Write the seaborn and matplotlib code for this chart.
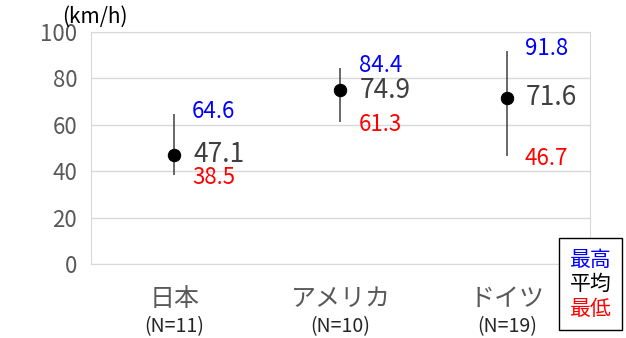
import matplotlib
matplotlib.use("Agg")
import matplotlib.pyplot as plt
import seaborn as sns
import pandas as pd
from matplotlib.lines import Line2D

# 国別の速度（最高・平均・最低）
countries = ["日本", "アメリカ", "ドイツ"]
counts = ["(N=11)", "(N=10)", "(N=19)"]
speed_max = [64.6, 84.4, 91.8]
speed_mean = [47.1, 74.9, 71.6]
speed_min = [38.5, 61.3, 46.7]

df = pd.DataFrame({"country": countries, "max": speed_max, "mean": speed_mean, "min": speed_min})

sns.set_style("white")
plt.rcParams['font.family'] = ['Noto Sans CJK JP', 'DejaVu Sans']

fig = plt.figure(figsize=(6.26, 3.38), dpi=100)
ax = fig.add_axes([0.1454, 0.219, 0.797, 0.686])

# 最低〜最高の範囲
ax.vlines(range(len(df)), df["min"], df["max"], color="#404040", linewidth=1.1, zorder=2)
sns.scatterplot(data=df, x="country", y="mean", color="black", s=80, edgecolor="black", ax=ax, zorder=3)

for i, row in df.iterrows():
    ax.annotate(f"{row['max']:.1f}", (i, row["max"]), xytext=(13, 2), textcoords="offset points",
                color="blue", fontsize=16, va="center", ha="left")
    ax.annotate(f"{row['mean']:.1f}", (i, row["mean"]), xytext=(14, 0), textcoords="offset points",
                color="#404040", fontsize=19, va="center", ha="left")
    ax.annotate(f"{row['min']:.1f}", (i, row["min"]), xytext=(13, -2), textcoords="offset points",
                color="red", fontsize=16, va="center", ha="left")
    # サンプル数
    ax.annotate(counts[i], (i, 0), xytext=(0, -45), textcoords="offset points",
                fontsize=14, color="#262626", ha="center", va="center", annotation_clip=False)

ax.set_xlim(-0.5, 2.5)
ax.set_ylim(0, 100)
ax.set_yticks(range(0, 101, 20))
ax.set_xlabel("")
ax.set_ylabel("")
ax.grid(True, axis="y", color="#d9d9d9", linewidth=1)
ax.set_axisbelow(True)
for sp in ax.spines.values():
    sp.set_color("#d9d9d9")
ax.tick_params(axis="y", length=0, labelsize=16, labelcolor="#595959", pad=10)
ax.tick_params(axis="x", length=0, labelsize=18, labelcolor="#595959", pad=16)

fig.text(62 / 626, 1 - 17 / 338, "(km/h)", fontsize=15, color="black", va="center", ha="left")

# 凡例
handles = [Line2D([], [], linestyle="none") for _ in range(3)]
fig.legend(handles, ["最高", "平均", "最低"], labelcolor=["blue", "black", "red"],
           loc="lower right", bbox_to_anchor=(622 / 626, 8 / 338), fontsize=15,
           handlelength=0, handletextpad=0, labelspacing=0.12, borderpad=0.5, borderaxespad=0,
           frameon=True, fancybox=False, edgecolor="black", framealpha=1)

fig.savefig("out.png", dpi=100)
